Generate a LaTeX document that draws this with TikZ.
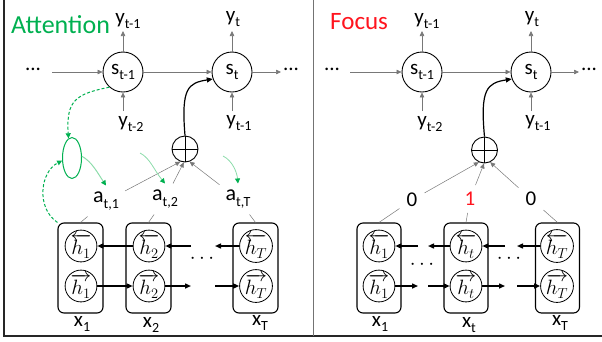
\documentclass[tikz,border=0pt]{standalone}
\usepackage{fontspec}
\setmainfont{Carlito}
\usetikzlibrary{arrows.meta,shapes.geometric,calc}
\definecolor{attgreen}{RGB}{0,176,80}
\definecolor{lightgreen}{RGB}{140,220,170}
\definecolor{focred}{RGB}{255,20,30}
\definecolor{thin}{RGB}{120,120,120}
\newcommand{\lsub}[1]{\raisebox{-0.28em}{\fontsize{14}{14}\selectfont #1}}
\begin{document}
\begin{tikzpicture}[x=1pt,y=-1pt,
  lab/.style={font=\fontsize{21}{21}\selectfont, inner sep=1pt},
  wlab/.style={font=\fontsize{21}{21}\selectfont, inner sep=7pt},
  alab/.style={font=\fontsize{22}{22}\selectfont, inner sep=6pt},
  scirc/.style={circle,draw,line width=0.9pt,minimum size=40pt,inner sep=0pt,font=\fontsize{21}{21}\selectfont},
  pcirc/.style={circle,draw,line width=0.9pt,minimum size=26pt,inner sep=0pt},
  hcirc/.style={circle,draw,line width=0.8pt,minimum size=31pt,inner sep=0pt,font=\fontsize{21}{21}\selectfont},
  hbox/.style={draw,rounded corners=6pt,line width=1.1pt,minimum width=45pt,minimum height=90pt,inner sep=0pt},
  tip/.style={-{Triangle[length=5pt,width=4.5pt]}},
  tarr/.style={tip,draw=thin,line width=0.6pt},
  harr/.style={-{Triangle[length=6pt,width=5pt]},line width=1.4pt},
  gline/.style={draw=thin,line width=0.5pt},
  gdash/.style={attgreen,line width=1pt,dashed,dash pattern=on 3pt off 2pt,-{Triangle[length=5pt,width=5pt]}},
  glight/.style={lightgreen,line width=0.8pt,-{Triangle[length=5pt,width=5pt,color=attgreen]}},
  dots/.style={font=\fontsize{20}{20}\selectfont,inner sep=1pt}
]
\useasboundingbox (0,0) rectangle (602,341);
% frame
\draw[line width=1.4pt,black!85] (4,0) -- (4,336) -- (602,336);
\draw[line width=0.7pt,black!55] (313,0) -- (313,336);

% ================= LEFT: Attention =================
\node[attgreen,font=\fontsize{26}{26}\selectfont,anchor=base west,inner sep=0pt] (tA) at (11,33) {Attention};

\node[scirc] (s1) at (123,72) {s\lsub{t-1}};
\node[scirc] (s2) at (232,72) {s\lsub{t}};
\node[lab] (dl) at (33,69) {...};
\node[lab] (dr) at (291,69) {...};
\coordinate (dlo) at (52,72);
\coordinate (dri) at (281,72);
\draw[tarr] (dlo) -- (s1);
\draw[tarr] (s1) -- (s2);
\draw[tarr] (s2) -- (dri);

\node[lab] (y1) at (128,21) {y\lsub{t-1}};
\node[lab] (y2) at (233,19) {y\lsub{t}};
\node[lab] (y3) at (131,124) {y\lsub{t-2}};
\node[lab] (y4) at (239,123) {y\lsub{t-1}};
\coordinate (y1e) at (123,31);
\coordinate (y2e) at (232,31);
\coordinate (y3e) at (123,111);
\coordinate (y4e) at (232,111);
\draw[tarr] (s1) -- (y1e);
\draw[tarr] (s2) -- (y2e);
\draw[tarr] (y3e) -- (s1);
\draw[tarr] (y4e) -- (s2);

\node[pcirc] (p) at (185,149) {};
\draw[line width=0.9pt] (p.north) -- (p.south) (p.west) -- (p.east);
\draw[line width=1.2pt,-{Triangle[length=6pt,width=5pt]}] (p.north) .. controls (181,88) and (188,83) .. (s2.200);

% boxes
\node[hbox] (b1) at (80.5,268) {};
\node[hbox] (b2) at (148.5,268) {};
\node[hbox] (b3) at (255.5,268) {};
\node[hcirc] (h1t) at (81,246) {$\overleftarrow{h_1}$};
\node[hcirc] (h1b) at (81,286) {$\overrightarrow{h_1}$};
\node[hcirc] (h2t) at (149,246) {$\overleftarrow{h_2}$};
\node[hcirc] (h2b) at (149,286) {$\overrightarrow{h_2}$};
\node[hcirc] (h3t) at (256,246) {$\overleftarrow{h_T}$};
\node[hcirc] (h3b) at (256,286) {$\overrightarrow{h_T}$};
\coordinate (m1t) at (191,246);
\coordinate (m2t) at (215,246);
\coordinate (m1b) at (191,286);
\coordinate (m2b) at (215,286);
\draw[harr] (h2t) -- (h1t);
\draw[harr] (m1t) -- (h2t);
\draw[harr] (h3t) -- (m2t);
\draw[harr] (h1b) -- (h2b);
\draw[harr] (h2b) -- (m1b);
\draw[harr] (m2b) -- (h3b);
\node[dots] (dd) at (202,259) {$\cdots$};

\node[lab] (x1) at (82,324) {x\lsub{1}};
\node[lab] (x2) at (151,325) {x\lsub{2}};
\node[lab] (x3) at (260,323) {x\lsub{T}};

% attention weights
\node[alab] (a1) at (106,201) {a\lsub{t,1}};
\node[alab] (a2) at (165,199) {a\lsub{t,2}};
\node[alab] (a3) at (238,199) {a\lsub{t,T}};
\draw[gline] (b1.north) -- (a1);
\draw[gline] (b2.north) -- (a2);
\draw[gline] (b3.north) -- (a3);
\draw[gline,tip] (a1) -- (p.250);
\draw[gline,tip] (a2) -- (p.265);
\draw[gline,tip] (a3) -- (p.290);

% green attention mechanism
\node[ellipse,draw=attgreen,line width=1pt,minimum width=19pt,minimum height=41pt,inner sep=0pt] (e) at (72,158) {};
\draw[gdash] (s1.228) .. controls (76,94) and (66,100) .. (e.100);
\draw[gdash] (b1.north west) .. controls (36,208) and (40,172) .. (e.195);
\draw[lightgreen,line width=1pt,-{Triangle[length=5pt,width=5pt,color=attgreen]}] (e.10) .. controls (92,162) and (97,172) .. (a1.north);
\coordinate (g2s) at (140,153);
\coordinate (g3s) at (223,156);
\draw[glight] (g2s) .. controls (150,158) and (154,170) .. (a2.north);
\draw[glight] (g3s) .. controls (233,161) and (237,173) .. (a3.north);

% ================= RIGHT: Focus =================
\node[focred,font=\fontsize{25}{25}\selectfont,anchor=base west,inner sep=0pt] (tF) at (330,29) {Focus};

\node[scirc] (r1) at (422,72) {s\lsub{t-1}};
\node[scirc] (r2) at (531,72) {s\lsub{t}};
\node[lab] (rdl) at (332,69) {...};
\node[lab] (rdr) at (589,69) {...};
\coordinate (rdlo) at (350,72);
\coordinate (rdri) at (579,72);
\draw[tarr] (rdlo) -- (r1);
\draw[tarr] (r1) -- (r2);
\draw[tarr] (r2) -- (rdri);

\node[lab] (ry1) at (427,21) {y\lsub{t-1}};
\node[lab] (ry2) at (532,19) {y\lsub{t}};
\node[lab] (ry3) at (430,124) {y\lsub{t-2}};
\node[lab] (ry4) at (538,123) {y\lsub{t-1}};
\coordinate (ry1e) at (422,31);
\coordinate (ry2e) at (531,31);
\coordinate (ry3e) at (422,111);
\coordinate (ry4e) at (531,111);
\draw[tarr] (r1) -- (ry1e);
\draw[tarr] (r2) -- (ry2e);
\draw[tarr] (ry3e) -- (r1);
\draw[tarr] (ry4e) -- (r2);

\node[pcirc] (q) at (484.5,150) {};
\draw[line width=0.9pt] (q.north) -- (q.south) (q.west) -- (q.east);
\draw[line width=1.2pt,-{Triangle[length=6pt,width=5pt]}] (q.north) .. controls (480,89) and (487,83) .. (r2.200);

\node[hbox,minimum width=44pt] (c1) at (379,268) {};
\node[hbox,minimum width=44pt] (c2) at (466,268) {};
\node[hbox,minimum width=44pt] (c3) at (557.5,268) {};
\node[hcirc] (k1t) at (379,246) {$\overleftarrow{h_1}$};
\node[hcirc] (k1b) at (379,286) {$\overrightarrow{h_1}$};
\node[hcirc] (k2t) at (466,246) {$\overleftarrow{h_t}$};
\node[hcirc] (k2b) at (466,286) {$\overrightarrow{h_t}$};
\node[hcirc] (k3t) at (557,246) {$\overleftarrow{h_T}$};
\node[hcirc] (k3b) at (557,286) {$\overrightarrow{h_T}$};
\coordinate (n1t) at (418,246);
\coordinate (n2t) at (428,246);
\coordinate (n3t) at (505,246);
\coordinate (n4t) at (517,246);
\coordinate (n1b) at (418,286);
\coordinate (n2b) at (428,286);
\coordinate (n3b) at (505,286);
\coordinate (n4b) at (517,286);
\draw[harr] (n1t) -- (k1t);
\draw[harr] (k2t) -- (n2t);
\draw[harr] (n3t) -- (k2t);
\draw[harr] (k3t) -- (n4t);
\draw[harr] (k1b) -- (n1b);
\draw[harr] (n2b) -- (k2b);
\draw[harr] (k2b) -- (n3b);
\draw[harr] (n4b) -- (k3b);
\node[dots] (rd1) at (422,265) {$\cdots$};
\node[dots] (rd2) at (509,259) {$\cdots$};

\node[lab] (z1) at (380,324) {x\lsub{1}};
\node[lab] (z2) at (469,325) {x\lsub{t}};
\node[lab] (z3) at (560,323) {x\lsub{T}};

\node[wlab] (w1) at (412,200) {0};
\node[wlab,text=focred] (w2) at (470,199) {1};
\node[wlab] (w3) at (531,199) {0};
\draw[gline] (c1.north) -- (w1);
\draw[gline] (c2.north) -- (w2);
\draw[gline] (c3.north) -- (w3);
\draw[gline,tip] (w1) -- (q.245);
\draw[gline,tip] (w2) -- (q.268);
\draw[gline,tip] (w3) -- (q.295);
\end{tikzpicture}
\end{document}
